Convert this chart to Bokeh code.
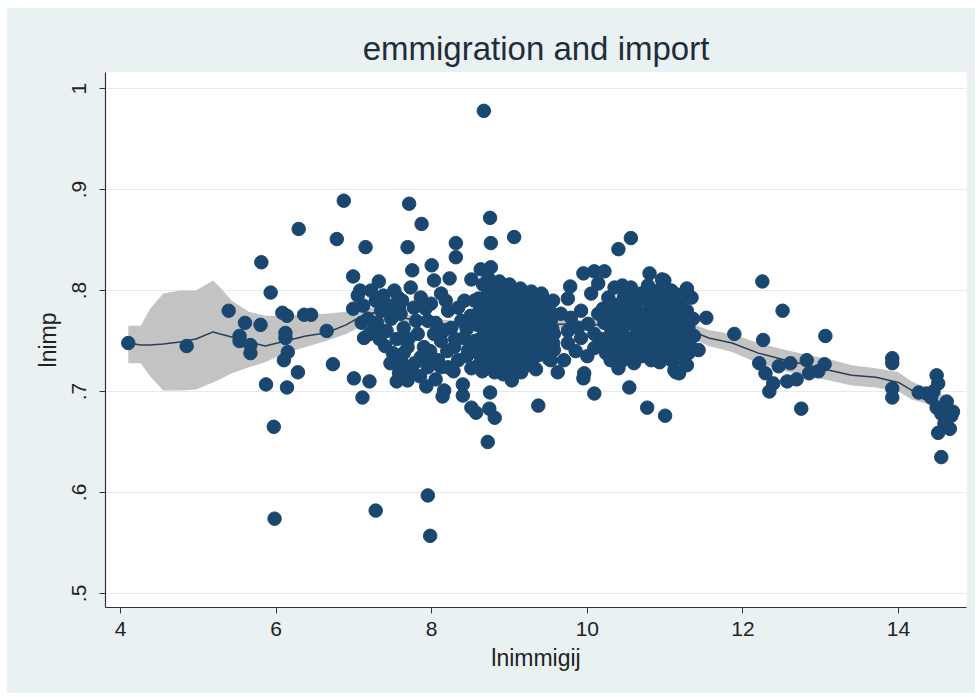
from bokeh.plotting import figure
from bokeh.models import Range1d, FixedTicker
from bokeh.embed import file_html
from bokeh.resources import INLINE

# ---- local polynomial fit of lnimp on lnimmigij, with 95% band ----
fit_x = [4.10, 4.26, 4.38, 4.55, 4.76, 4.97, 5.19, 5.28, 5.43, 5.65, 5.86, 6.12,
         6.38, 6.64, 6.90, 7.08, 7.25, 7.45, 7.70, 8.00, 8.30, 8.60, 8.90, 9.20,
         9.50, 9.80, 10.10, 10.40, 10.70, 11.00, 11.34, 11.56, 11.86, 12.20, 12.55,
         12.85, 13.11, 13.40, 13.71, 14.00, 14.17, 14.35, 14.49, 14.68]
fit_y = [0.748, 0.746, 0.746, 0.747, 0.749, 0.752, 0.759, 0.757, 0.754, 0.749, 0.745, 0.750,
         0.755, 0.758, 0.766, 0.774, 0.778, 0.775, 0.772, 0.768, 0.766, 0.764, 0.764, 0.765,
         0.766, 0.767, 0.766, 0.765, 0.764, 0.763, 0.760, 0.753, 0.748, 0.738, 0.731,
         0.726, 0.721, 0.716, 0.714, 0.709, 0.701, 0.696, 0.691, 0.685]
ci_hi = [0.765, 0.765, 0.782, 0.797, 0.800, 0.800, 0.810, 0.803, 0.790, 0.779, 0.775, 0.775,
         0.776, 0.777, 0.779, 0.782, 0.783, 0.780, 0.776, 0.772, 0.770, 0.768, 0.768, 0.769,
         0.770, 0.771, 0.770, 0.769, 0.768, 0.768, 0.767, 0.761, 0.757, 0.748, 0.741,
         0.736, 0.732, 0.726, 0.723, 0.719, 0.710, 0.704, 0.699, 0.693]
ci_lo = [0.728, 0.728, 0.715, 0.701, 0.701, 0.702, 0.709, 0.712, 0.718, 0.724, 0.729, 0.738,
         0.744, 0.750, 0.757, 0.764, 0.772, 0.770, 0.768, 0.764, 0.762, 0.760, 0.760, 0.761,
         0.762, 0.763, 0.762, 0.761, 0.760, 0.759, 0.753, 0.745, 0.739, 0.728, 0.720,
         0.715, 0.711, 0.706, 0.704, 0.700, 0.692, 0.688, 0.683, 0.677]

# ---- observations (lnimmigij, lnimp) ----
left_tail = [
    (4.10, 0.748), (4.85, 0.745), (5.39, 0.780), (5.60, 0.768), (5.80, 0.766),
    (5.53, 0.755), (5.53, 0.750), (5.67, 0.746), (5.67, 0.738), (5.81, 0.828),
    (5.93, 0.798), (6.08, 0.778), (6.14, 0.775), (6.12, 0.758), (6.12, 0.753),
    (6.15, 0.739), (6.10, 0.731), (6.28, 0.719), (5.87, 0.707), (6.14, 0.704),
    (5.97, 0.665), (6.36, 0.776), (6.45, 0.776), (5.98, 0.574), (6.29, 0.861),
    (6.65, 0.760), (6.73, 0.727), (6.78, 0.851), (6.87, 0.889), (6.99, 0.814),
    (6.99, 0.782), (7.08, 0.800), (7.15, 0.843), (7.32, 0.809), (7.13, 0.753),
    (7.00, 0.713), (7.20, 0.710), (7.11, 0.694), (7.28, 0.582),
]

outliers = [
    (8.67, 0.978), (7.95, 0.597), (7.98, 0.557), (8.72, 0.650), (9.37, 0.686),
]

core_a = [
    (7.05, 0.795), (7.12, 0.785), (7.18, 0.772), (7.22, 0.800), (7.28, 0.790),
    (7.30, 0.768), (7.35, 0.780), (7.38, 0.795), (7.42, 0.760), (7.45, 0.785),
    (7.48, 0.772), (7.52, 0.800), (7.55, 0.752), (7.58, 0.783), (7.40, 0.745),
    (7.50, 0.738), (7.33, 0.752), (7.25, 0.760), (7.47, 0.728), (7.58, 0.718),
    (7.62, 0.728), (7.55, 0.710), (7.20, 0.757), (7.10, 0.768),
    (7.57, 0.793), (7.73, 0.803), (7.86, 0.793), (7.60, 0.777), (7.77, 0.783),
    (7.95, 0.770), (7.64, 0.763), (7.82, 0.757), (8.03, 0.757), (7.69, 0.744),
    (7.90, 0.744), (8.12, 0.750), (7.64, 0.738), (7.86, 0.734), (8.08, 0.731),
    (7.73, 0.721), (7.95, 0.724), (8.12, 0.724), (7.69, 0.711), (7.93, 0.705),
    (8.16, 0.701), (8.14, 0.695), (7.75, 0.820), (8.00, 0.825), (8.03, 0.810),
    (8.12, 0.797), (7.99, 0.787), (8.21, 0.780), (8.34, 0.783), (8.38, 0.770),
    (8.25, 0.763), (8.41, 0.753), (8.29, 0.744), (8.47, 0.741), (8.34, 0.731),
    (8.51, 0.723), (8.21, 0.724), (8.40, 0.707), (8.40, 0.696), (8.51, 0.684),
    (8.57, 0.679), (8.75, 0.699), (8.74, 0.683), (8.81, 0.674), (9.03, 0.711),
    (7.80, 0.770), (7.92, 0.782), (8.05, 0.768), (8.15, 0.760), (7.70, 0.752),
    (7.98, 0.740), (8.20, 0.740), (8.30, 0.752), (8.45, 0.762), (8.50, 0.775),
    (8.42, 0.790), (8.18, 0.790), (7.85, 0.715), (8.05, 0.712), (8.28, 0.720),
    (8.45, 0.735), (8.55, 0.750), (8.55, 0.790), (7.62, 0.790), (7.78, 0.728),
    (8.00, 0.728),
    (7.69, 0.843), (8.31, 0.847), (8.31, 0.833), (8.75, 0.872), (8.76, 0.847),
    (9.06, 0.853), (7.71, 0.886), (7.87, 0.866), (8.63, 0.821), (8.76, 0.823),
    (8.51, 0.811), (8.23, 0.812),
]

core_b = [
    (8.60, 0.792), (8.61, 0.779), (8.59, 0.766), (8.62, 0.752), (8.60, 0.738), (8.61, 0.727),
    (8.66, 0.806), (8.67, 0.786), (8.65, 0.771), (8.68, 0.758), (8.66, 0.745), (8.67, 0.731), (8.65, 0.720),
    (8.73, 0.812), (8.72, 0.797), (8.74, 0.782), (8.73, 0.768), (8.71, 0.754), (8.74, 0.741), (8.72, 0.728),
    (8.80, 0.803), (8.81, 0.789), (8.79, 0.775), (8.80, 0.761), (8.82, 0.748), (8.79, 0.734), (8.81, 0.719),
    (8.87, 0.809), (8.86, 0.794), (8.88, 0.780), (8.87, 0.766), (8.85, 0.751), (8.88, 0.738), (8.86, 0.724),
    (8.93, 0.799), (8.94, 0.785), (8.92, 0.771), (8.95, 0.757), (8.93, 0.743), (8.94, 0.730), (8.92, 0.717),
    (9.00, 0.806), (9.01, 0.791), (8.99, 0.777), (9.02, 0.763), (9.00, 0.749), (9.01, 0.735), (8.99, 0.722),
    (9.07, 0.797), (9.06, 0.783), (9.08, 0.768), (9.07, 0.754), (9.05, 0.741), (9.08, 0.727),
    (9.14, 0.802), (9.15, 0.788), (9.13, 0.774), (9.14, 0.760), (9.16, 0.746), (9.13, 0.732), (9.15, 0.719),
    (9.21, 0.794), (9.22, 0.780), (9.20, 0.766), (9.21, 0.752), (9.23, 0.739), (9.20, 0.725),
    (9.28, 0.799), (9.27, 0.785), (9.29, 0.771), (9.28, 0.757), (9.26, 0.743), (9.29, 0.730),
    (9.35, 0.791), (9.36, 0.777), (9.34, 0.762), (9.35, 0.749), (9.37, 0.736), (9.34, 0.722),
    (9.42, 0.795), (9.41, 0.781), (9.43, 0.767), (9.42, 0.753), (9.40, 0.740),
    (9.49, 0.787), (9.50, 0.773), (9.48, 0.759), (9.49, 0.745), (9.51, 0.732),
    (9.56, 0.790), (9.57, 0.776), (9.55, 0.762), (9.56, 0.748),
]

core_c = [
    (9.41, 0.797), (9.50, 0.783), (9.41, 0.767), (9.53, 0.770), (9.66, 0.777),
    (9.79, 0.773), (9.92, 0.780), (9.75, 0.792), (9.78, 0.804), (9.57, 0.757),
    (9.75, 0.760), (9.88, 0.763), (10.01, 0.767), (10.14, 0.777), (9.41, 0.744),
    (9.57, 0.741), (9.75, 0.748), (9.92, 0.753), (10.09, 0.757), (9.53, 0.731),
    (9.70, 0.731), (9.62, 0.719), (10.09, 0.743), (9.96, 0.718), (9.95, 0.713),
    (10.09, 0.698), (9.95, 0.817), (10.09, 0.819), (10.22, 0.819), (10.05, 0.797),
    (10.14, 0.807), (9.85, 0.740), (10.00, 0.735), (10.15, 0.745),
]

core_d = [
    (10.40, 0.841), (10.56, 0.852), (10.80, 0.817), (10.96, 0.811), (11.28, 0.802),
    (10.35, 0.803), (10.56, 0.803), (10.99, 0.810), (11.08, 0.800), (11.27, 0.800),
    (10.27, 0.793), (10.47, 0.793), (10.69, 0.797), (10.91, 0.800), (11.12, 0.797),
    (11.34, 0.793),
    (10.20, 0.782), (10.22, 0.768), (10.19, 0.752), (10.24, 0.738),
    (10.30, 0.788), (10.29, 0.775), (10.31, 0.760), (10.28, 0.746), (10.30, 0.731),
    (10.37, 0.782), (10.38, 0.767), (10.36, 0.753), (10.39, 0.739),
    (10.45, 0.805), (10.44, 0.788), (10.46, 0.772), (10.45, 0.758), (10.47, 0.744), (10.44, 0.730),
    (10.53, 0.796), (10.54, 0.781), (10.52, 0.767), (10.55, 0.752), (10.53, 0.739),
    (10.62, 0.786), (10.61, 0.771), (10.63, 0.757), (10.62, 0.743), (10.60, 0.728),
    (10.70, 0.792), (10.71, 0.777), (10.69, 0.762), (10.72, 0.748), (10.70, 0.735),
    (10.78, 0.805), (10.79, 0.788), (10.77, 0.773), (10.80, 0.758), (10.78, 0.745),
    (10.86, 0.795), (10.87, 0.780), (10.85, 0.766), (10.88, 0.752), (10.86, 0.739),
    (10.95, 0.785), (10.94, 0.770), (10.96, 0.756), (10.95, 0.742), (10.93, 0.729),
    (11.03, 0.791), (11.04, 0.776), (11.02, 0.762), (11.05, 0.748), (11.03, 0.735),
    (11.12, 0.782), (11.11, 0.768), (11.13, 0.754), (11.12, 0.741),
    (11.20, 0.788), (11.21, 0.773), (11.19, 0.759), (11.22, 0.746), (11.20, 0.733),
    (11.28, 0.780), (11.29, 0.765), (11.27, 0.750), (11.30, 0.738), (11.28, 0.726),
    (11.36, 0.772), (11.37, 0.755), (11.35, 0.742),
    (10.40, 0.723), (10.54, 0.704), (10.77, 0.684), (11.00, 0.676), (11.14, 0.719),
    (11.18, 0.718), (10.82, 0.731), (11.08, 0.731), (11.43, 0.741), (11.30, 0.763),
    (11.30, 0.748), (11.12, 0.721),
]

right_tail = [
    (11.53, 0.773), (11.89, 0.757), (12.25, 0.809), (12.51, 0.780), (12.26, 0.751),
    (13.06, 0.755), (12.21, 0.728), (12.29, 0.718), (12.39, 0.708), (12.34, 0.700),
    (12.46, 0.725), (12.61, 0.728), (12.57, 0.710), (12.69, 0.712), (12.82, 0.731),
    (12.85, 0.718), (12.97, 0.720), (13.05, 0.727), (12.75, 0.683),
    (13.92, 0.733), (13.92, 0.728), (13.92, 0.703), (13.92, 0.694), (14.26, 0.699),
    (14.36, 0.698), (14.49, 0.716), (14.51, 0.708), (14.42, 0.694), (14.49, 0.684),
    (14.55, 0.678), (14.68, 0.676), (14.59, 0.668), (14.51, 0.659), (14.66, 0.663),
    (14.55, 0.635), (14.45, 0.700), (14.62, 0.690), (14.70, 0.680),
]

x_ticks = [4, 6, 8, 10, 12, 14]
y_ticks = [0.5, 0.6, 0.7, 0.8, 0.9, 1]
y_tick_labels = [".5", ".6", ".7", ".8", ".9", "1"]

points = left_tail + outliers + core_a + core_b + core_c + core_d + right_tail
lnimmigij = [pt[0] for pt in points]
lnimp = [pt[1] for pt in points]

NAVY = "#1a476f"
FONT = "Liberation Sans"

p = figure(
    width=969, height=686,
    x_range=Range1d(3.807, 14.874), y_range=Range1d(0.486, 1.016),
    output_backend="svg", toolbar_location=None,
    min_border_left=99, min_border_right=9, min_border_top=65, min_border_bottom=86,
    background_fill_color="white", border_fill_color="#eaf1f3",
    outline_line_color=None,
    title="emmigration and import",
)
p.margin = (7, 4, 4, 6)

p.title.align = "center"
p.title.text_font = FONT
p.title.text_font_size = "33px"
p.title.text_font_style = "normal"
p.title.text_color = "#1f2d3a"
p.title.standoff = 11

# confidence band, fitted line, then the observations on top
p.varea(x=fit_x, y1=ci_lo, y2=ci_hi, fill_color="#c3c3c3")
p.line(fit_x, fit_y, line_color="#2b3f54", line_width=1.5)
p.scatter(lnimmigij, lnimp, size=13.5, fill_color=NAVY, line_color=NAVY)

p.xaxis.ticker = FixedTicker(ticks=x_ticks)
p.yaxis.ticker = FixedTicker(ticks=y_ticks)
p.yaxis.major_label_overrides = {t: s for t, s in zip(y_ticks, y_tick_labels)}
p.yaxis.major_label_orientation = "vertical"

for ax in (p.xaxis[0], p.yaxis[0]):
    ax.axis_line_color = "#333333"
    ax.axis_line_width = 1.2
    ax.major_tick_line_color = "#333333"
    ax.major_tick_in = 0
    ax.major_tick_out = 6
    ax.minor_tick_line_color = None
    ax.major_label_text_font = FONT
    ax.major_label_text_font_size = "21px"
    ax.major_label_text_color = "#222222"
    ax.axis_label_text_font = FONT
    ax.axis_label_text_font_size = "23px"
    ax.axis_label_text_font_style = "normal"
    ax.axis_label_text_color = "#222222"

p.xaxis.axis_label = "lnimmigij"
p.yaxis.axis_label = "lnimp"
p.xaxis.major_label_standoff = 8
p.yaxis.major_label_standoff = 13
p.xaxis.axis_label_standoff = 6
p.yaxis.axis_label_standoff = 9

p.xgrid.visible = False
p.ygrid.grid_line_color = "#e3ebee"
p.ygrid.grid_line_width = 1.2

open("out.html", "w").write(file_html(p, INLINE))
